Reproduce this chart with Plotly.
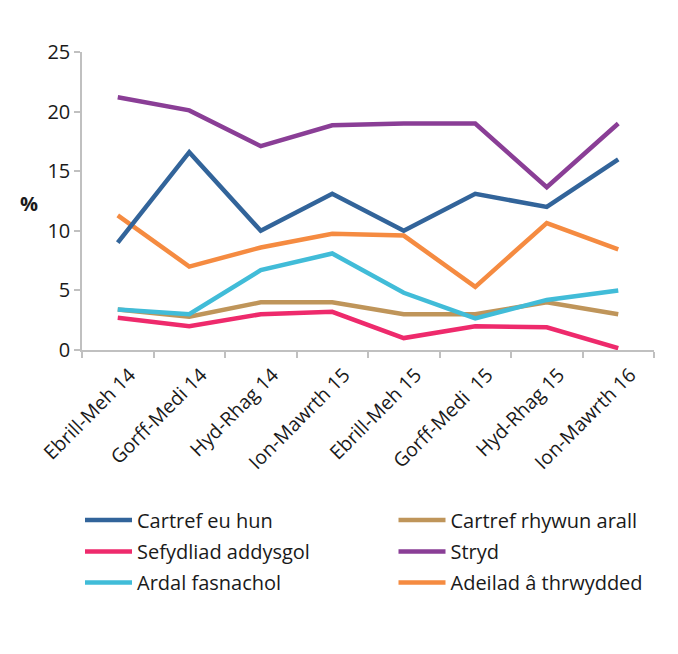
import plotly.graph_objects as go

categories = ["Ebrill-Meh 14", "Gorff-Medi 14", "Hyd-Rhag 14", "Ion-Mawrth 15",
              "Ebrill-Meh 15", "Gorff-Medi  15", "Hyd-Rhag 15", "Ion-Mawrth 16"]

cartref_eu_hun = [9.0, 16.6, 10.0, 13.1, 10.0, 13.1, 12.0, 16.0]
cartref_rhywun_arall = [3.4, 2.8, 4.0, 4.0, 3.0, 3.0, 4.0, 3.0]
sefydliad_addysgol = [2.7, 2.0, 3.0, 3.2, 1.0, 2.0, 1.9, 0.15]
stryd = [21.2, 20.1, 17.1, 18.85, 19.0, 19.0, 13.65, 19.0]
ardal_fasnachol = [3.4, 3.0, 6.7, 8.1, 4.8, 2.65, 4.2, 5.0]
adeilad_thrwydded = [11.3, 7.0, 8.6, 9.75, 9.6, 5.3, 10.65, 8.45]

series = [
    ("Cartref eu hun", cartref_eu_hun, "#32649a"),
    ("Cartref rhywun arall", cartref_rhywun_arall, "#bf955a"),
    ("Sefydliad addysgol", sefydliad_addysgol, "#ee2a6c"),
    ("Stryd", stryd, "#8a3e96"),
    ("Ardal fasnachol", ardal_fasnachol, "#41bcd8"),
    ("Adeilad â thrwydded", adeilad_thrwydded, "#f58b41"),
]
# draw order so that lines overlap like the reference
draw_order = [1, 4, 2, 5, 0, 3]

FONT = "Open Sans, sans-serif"
TXT = "#1a1a1a"

# figure geometry (the page shows the figure offset by 8 px)
W, H = 662, 646
L, R, T, B = 74, 16, 44, 304
pw, ph = W - L - R, H - T - B

def px(x):
    return (x - L) / pw

def py(y):
    return (H - B - y) / ph

# legend slot positions (figure pixels): column x, row y
col_x = [72, 385.5]
row_y = [512, 543.5, 574.5]
legend_names = ["legend", "legend2", "legend3", "legend4", "legend5", "legend6"]

fig = go.Figure()
for i in draw_order:
    name, vals, col = series[i]
    fig.add_trace(go.Scatter(x=categories, y=vals, name=name, mode="lines",
                             line=dict(color=col, width=4.5),
                             legend=legend_names[i]))

legend_layout = {}
for i in range(len(series)):
    legend_layout[legend_names[i]] = dict(
        orientation="h", xref="paper", yref="paper",
        x=px(col_x[i % 2]), y=py(row_y[i // 2]), xanchor="left", yanchor="middle",
        font=dict(size=20, family=FONT, color=TXT),
        itemwidth=47, bgcolor="rgba(0,0,0,0)", borderwidth=0)

fig.update_layout(
    width=W, height=H,
    margin=dict(l=L, r=R, t=T, b=B, autoexpand=False),
    paper_bgcolor="white",
    plot_bgcolor="rgba(0,0,0,0)",
    font=dict(family=FONT, size=19, color=TXT),
    showlegend=True,
    annotations=[dict(text="<b>%</b>", xref="paper", yref="paper",
                      x=px(21), y=py(195), xanchor="center", yanchor="middle",
                      showarrow=False,
                      font=dict(size=20, family=FONT, color=TXT))],
    **legend_layout,
)
fig.update_xaxes(type="category", range=[-0.5, 7.5], tickangle=-45,
                 automargin=False,
                 showline=True, linecolor="#c0c0c0", linewidth=1.5,
                 ticks="outside", tickson="boundaries", ticklen=6,
                 tickcolor="#c0c0c0", tickwidth=1.5, showgrid=False,
                 ticklabelshift=12, ticklabelstandoff=4,
                 tickfont=dict(size=19.5, family=FONT, color=TXT))
fig.update_yaxes(range=[0, 25], dtick=5, showline=True, linecolor="#c0c0c0",
                 automargin=False,
                 linewidth=1.5, ticks="outside", ticklen=6, tickcolor="#c0c0c0",
                 tickwidth=1.5, showgrid=False, zeroline=False,
                 tickfont=dict(size=20, family=FONT, color=TXT))

fig.write_html("out.html")
